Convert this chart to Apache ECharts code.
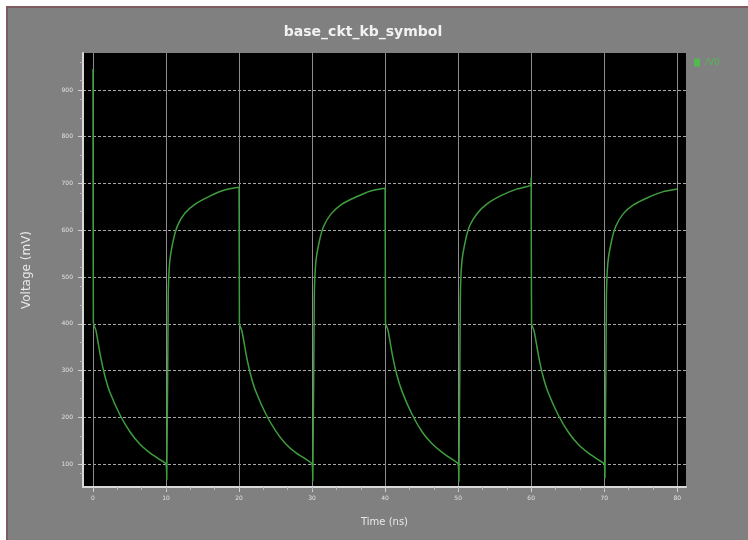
<!DOCTYPE html>
<html>
<head>
<meta charset="utf-8">
<script src="https://cdn.jsdelivr.net/npm/echarts@6/dist/echarts.min.js"></script>
<style>
  html, body { margin: 0; padding: 0; background: #ffffff; }
  #chart { width: 748px; height: 540px; }
</style>
</head>
<body>
<div id="chart"></div>
<script>
// Transient response of the node voltage (time in ns, voltage in mV)
const timeNs = [
  0, 0.05, 0.4, 1, 1.6, 2.3, 3.7, 5.1, 6.4, 7.8, 9.2, 10, 10.1, 10.3, 10.5, 11, 11.6, 12.6, 14, 16, 18, 20,
  20.05, 20.4, 21, 21.6, 22.3, 23.7, 25.1, 26.4, 27.8, 29.2, 30, 30.1, 30.3, 30.5, 31, 31.6, 32.6, 34, 36, 38, 40,
  40.05, 40.4, 41, 41.6, 42.3, 43.7, 45.1, 46.4, 47.8, 49.2, 50, 50.1, 50.3, 50.5, 51, 51.6, 52.6, 54, 56, 58, 59.9, 60,
  60.05, 60.4, 61, 61.6, 62.3, 63.7, 65.1, 66.4, 67.8, 69.2, 70, 70.1, 70.3, 70.5, 71, 71.6, 72.6, 74, 76, 78, 80
];
const voltageMv = [
  945, 402, 386, 333, 290, 254, 205, 168, 143, 124, 109, 100, 66, 457, 532, 579, 611, 637, 656, 673, 686, 692,
  400, 384, 332, 290, 255, 206, 169, 143, 124, 110, 100, 64, 455, 530, 577, 609, 635, 655, 671, 684, 690,
  402, 386, 333, 291, 256, 206, 168, 144, 125, 110, 100, 62, 456, 531, 578, 610, 636, 657, 675, 688, 696, 712,
  400, 385, 332, 289, 254, 205, 168, 143, 124, 109, 100, 70, 455, 530, 577, 609, 635, 654, 670, 682, 688
];
const xTicks = [0, 10, 20, 30, 40, 50, 60, 70, 80];
const yTicks = [100, 200, 300, 400, 500, 600, 700, 800, 900];

const seriesName = '/V0';
const points = timeNs.map((t, i) => [t, voltageMv[i]]);

const chart = echarts.init(document.getElementById('chart'), null, { renderer: 'canvas' });

const axisText = { color: '#e0e0e0', fontSize: 6, fontFamily: 'DejaVu Sans' };

chart.setOption({
  backgroundColor: '#ffffff',
  animation: false,
  graphic: [
    {
      type: 'rect',
      z: -10,
      shape: { x: 7, y: 7, width: 745, height: 540 },
      style: { fill: '#808080', stroke: '#7d5b60', lineWidth: 2 }
    }
  ],
  title: {
    text: 'base_ckt_kb_symbol',
    left: 358,
    top: 20,
    textAlign: 'center',
    textStyle: { color: '#f2f2f2', fontSize: 14, fontWeight: 'bold', fontFamily: 'DejaVu Sans' }
  },
  legend: {
    data: [seriesName],
    left: 689,
    top: 53,
    icon: 'rect',
    itemWidth: 6,
    itemHeight: 8,
    itemGap: 2,
    textStyle: { color: '#52b852', fontSize: 9, fontFamily: 'DejaVu Sans' }
  },
  grid: { left: 83, right: 62, top: 53, bottom: 53, backgroundColor: '#000000', show: true, borderWidth: 0 },
  xAxis: {
    type: 'value',
    min: -1.37,
    max: 81.2,
    name: 'Time (ns)',
    nameLocation: 'middle',
    nameGap: 30,
    nameTextStyle: { color: '#e8e8e8', fontSize: 10, fontFamily: 'DejaVu Sans' },
    axisLine: { show: true, onZero: false, lineStyle: { color: '#d8d8d8', width: 2 } },
    axisTick: { show: true, customValues: xTicks, length: 5, lineStyle: { color: '#d0d0d0' } },
    minorTick: { show: true, splitNumber: 6, length: 3, lineStyle: { color: '#b8b8b8' } },
    axisLabel: { customValues: xTicks, margin: 8, ...axisText },
    splitLine: { show: true, lineStyle: { color: '#8c8c8c', width: 1 } }
  },
  yAxis: {
    type: 'value',
    min: 51,
    max: 979,
    name: 'Voltage (mV)',
    nameLocation: 'middle',
    nameGap: 50,
    nameTextStyle: { color: '#e8e8e8', fontSize: 12, fontFamily: 'DejaVu Sans' },
    axisLine: { show: true, onZero: false, lineStyle: { color: '#d8d8d8', width: 2 } },
    axisTick: { show: true, customValues: yTicks, length: 5, lineStyle: { color: '#d0d0d0' } },
    minorTick: { show: true, splitNumber: 5, length: 3, lineStyle: { color: '#b8b8b8' } },
    axisLabel: { customValues: yTicks, margin: 10, ...axisText },
    splitLine: { show: true, lineStyle: { color: '#a8a8a8', width: 1, type: [3, 2] } }
  },
  series: [
    {
      name: seriesName,
      type: 'line',
      data: points,
      showSymbol: false,
      smooth: 0.2,
      lineStyle: { color: '#3e9e3e', width: 1.5 },
      itemStyle: { color: '#52b852' }
    }
  ]
});
</script>
</body>
</html>
